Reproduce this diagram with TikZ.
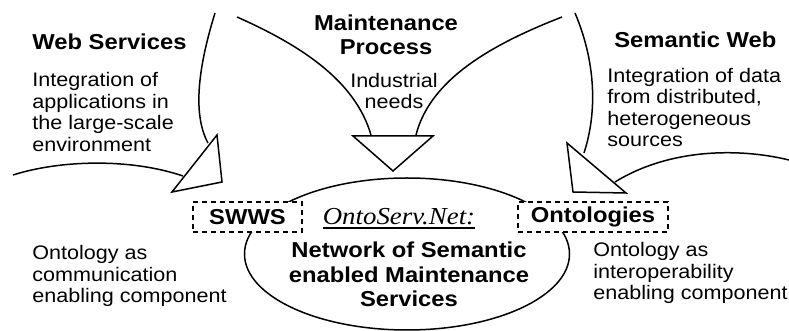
\documentclass[tikz,border=0pt]{standalone}
\usepackage{fontspec}
\setmainfont[FakeStretch=1.1]{Liberation Sans}
\newfontfamily\ontoserif[FakeStretch=1.1]{Liberation Serif}
\usepackage{tikz}
\usetikzlibrary{shapes.geometric}
\newcommand{\thickul}[1]{\setbox0\hbox{#1}\rlap{\raisebox{-2pt}{\rule{\wd0}{0.9pt}}}\box0}

\begin{document}
\begin{tikzpicture}[x=0.5pt, y=-0.5pt,
    heading/.style = {font=\fontsize{10.8}{12.25}\selectfont\bfseries, align=center, inner sep=0},
    remark/.style = {font=\fontsize{9.8}{10.75}\selectfont, align=left, inner sep=0, anchor=base west},
    tagbox/.style = {draw, dashed, dash pattern=on 2.5pt off 2pt, line width=0.75pt, fill=white, font=\fontsize{10.8}{12}\selectfont\bfseries, minimum height=15pt, inner sep=0},
    hub/.style = {draw, ellipse, line width=0.75pt, minimum width=162.5pt, minimum height=76pt, inner sep=0},
    shaft/.style = {line width=0.75pt},
    head/.style = {draw, fill=white, line width=0.75pt}]
    \useasboundingbox (0,0) rectangle (789,331);

    % 箭头
    \draw[shaft] (215,13) .. controls (202,55) and (190,110) .. (208,143);
    \draw[shaft] (13,175) .. controls (60,160) and (130,158) .. (183,176);
    \draw[head] (217,135) -- (222,182) -- (172,192) -- cycle;

    \draw[shaft] (237,17) .. controls (300,45) and (355,80) .. (371,135);
    \draw[shaft] (562,17) .. controls (490,45) and (430,80) .. (416,135);
    \draw[head] (353,136) -- (433,136) -- (393,171) -- cycle;

    \draw[shaft] (575,13) .. controls (595,60) and (598,110) .. (584,153);
    \draw[shaft] (789,160) .. controls (740,148) and (670,148) .. (615,182);
    \draw[head] (567,143) -- (573,192) -- (626,193) -- cycle;

    % 节点 (多行文字: base = 最后一行)
    \node[hub] (net) at (407,254) {};
    \node[tagbox, minimum width=54.5pt] (swws) at (247.5,217) {SWWS};
    \node[tagbox, minimum width=75pt] (onto) at (593,217) {Ontologies};

    \node[heading, anchor=base west] (ws) at (32,50) {Web Services};
    \node[heading, anchor=base] (mp) at (386,55) {Maintenance\\Process};
    \node[heading, anchor=base west] (sw) at (614,48) {Semantic Web};

    \node[remark] (wsnote) at (32,151.5) {Integration of\\applications in\\the large-scale\\environment};
    \node[remark, align=center, anchor=base] (mpnote) at (394,109) {Industrial\\needs};
    \node[remark] (swnote) at (607,147) {Integration of data\\from distributed,\\heterogeneous\\sources};

    \node[inner sep=0, anchor=base, font=\fontsize{12.2}{14}\selectfont\ontoserif\itshape] (name) at (399,225) {\thickul{OntoServ.Net:}};
    \node[heading, anchor=base] (netlabel) at (409,307) {Network of Semantic\\enabled Maintenance\\Services};

    \node[remark] (swwsnote) at (32,303) {Ontology as\\communication\\enabling component};
    \node[remark] (ontonote) at (593,300) {Ontology as\\interoperability\\enabling component};
\end{tikzpicture}
\end{document}
